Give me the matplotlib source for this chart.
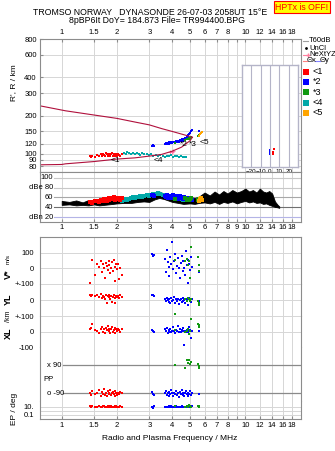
import matplotlib
matplotlib.use("Agg")
import matplotlib.pyplot as plt
from matplotlib.lines import Line2D
from matplotlib.ticker import NullLocator

plt.rcParams['font.family'] = ['Liberation Sans', 'DejaVu Sans']

W, H = 335, 451

# frequency axis
freq_ticks = [1, 1.5, 2, 3, 4, 5, 6, 7, 8, 9, 10, 12, 14, 16, 18]
freq_labels = ['1', '1.5', '2', '3', '4', '5', '6', '7', '8', '', '10', '12', '14', '16', '18']
freq_labels_mid = ['1', '1.5', '2', '3', '4', '5', '6', '7', '8', '9', '10', '12', '14', '16', '18']
range_ticks = [80, 90, 100, 120, 150, 200, 300, 400, 600, 800]

# model traces (theta x / theta y)
model_f = [0.757, 1.0, 1.05, 1.5, 2.0, 2.5, 3.0, 3.5, 4.0, 4.5, 5.0, 5.15]
model_upper = [239, 221, 218, 202, 190, 178, 169, 158, 150, 143, 137, 135]
model_lower = [82, 82.5, 83.5, 87, 91, 93, 96, 99, 105, 113, 127, 135]

# echo groups: frequency (MHz), range (km), amplitude (dB), V* (m/s), YL, XL (km), PP, EP (deg)
red_f = [1.43, 1.45, 1.47, 1.52, 1.56, 1.60, 1.63, 1.66, 1.68, 1.70, 1.72, 1.74, 1.76, 1.78, 1.80,
         1.82, 1.84, 1.86, 1.88, 1.90, 1.92, 1.94, 1.96, 1.98, 2.00, 2.03, 2.06, 2.09, 2.12]
red_r = [96, 94, 97, 95, 98, 96, 99, 97, 100, 98, 96, 101, 99, 97, 100,
         98, 96, 99, 101, 97, 100, 98, 96, 99, 97, 100, 98, 96, 99]
red_amp = [50, 51, 49, 52, 53, 51, 55, 54, 52, 56, 55, 57, 53, 56, 58,
           55, 57, 59, 56, 58, 60, 57, 55, 58, 56, 59, 57, 55, 58]
red_v = [-96, -107, 52, -40, 30, 10, 45, -20, 25, 5, -60, 35, 15, -10, 50,
         20, -30, 0, 40, -15, 55, 10, -80, 25, -5, 30, -70, 5, -40]
red_yl = [30, 28, 32, 25, 30, 22, 35, 15, 28, 20, 10, 30, -15, 25, 18,
          32, 5, 28, -10, 22, 30, 15, -19, 25, 20, 28, 12, 30, 22]
red_xl = [15, 25, 52, 10, 5, -5, 20, 30, 0, 15, -10, 25, 10, 35, 5,
          20, -5, 15, 30, 0, 10, 25, -10, 15, 5, 20, 10, 0, 15]
red_pp = [-85, -100, -75, -95, -90, -70, -105, -80, -95, -65, -100, -85, -110, -75, -90,
          -95, -70, -100, -85, -80, -95, -105, -75, -90, -100, -85, -95, -80, -90]
red_ep = [12, 10, 15, 9, 11, 13, 10, 8, 12, 14, 9, 11, 10, 13, 8,
          12, 10, 15, 9, 11, 10, 12, 8, 14, 10, 11, 9, 12, 10]

blue_f = [3.12, 3.15, 3.18, 3.66, 3.70, 3.74, 3.78, 3.82, 3.86, 3.90, 3.95, 4.00, 4.05, 4.10, 4.15,
          4.20, 4.25, 4.30, 4.35, 4.40, 4.45, 4.50, 4.55, 4.60, 4.65, 4.70, 4.75, 4.80, 4.85, 4.90,
          4.95, 5.00, 5.05, 5.10, 5.58]
blue_r = [116, 118, 115, 120, 122, 119, 121, 123, 120, 122, 124, 121, 123, 125, 122,
          126, 124, 127, 125, 128, 126, 130, 127, 132, 129, 134, 131, 136, 138, 141,
          144, 147, 150, 155, 150]
blue_amp = [64, 66, 62, 62, 60, 64, 58, 61, 63, 59, 62, 60, 64, 58, 61,
            59, 63, 57, 60, 62, 58, 61, 59, 57, 60, 58, 56, 59, 57, 55,
            58, 56, 57, 55, 52]
blue_v = [90, 78, 85, 60, -20, 120, 40, 10, -50, 75, 25, 167, -5, 50, 95,
          -30, 15, 65, 0, -60, 35, 80, -15, 45, 5, -40, 110, 20, -96, 55,
          30, -10, 70, 10, -25]
blue_yl = [30, 33, 25, 10, -5, 15, 0, -10, 5, -20, 12, -8, 3, 18, -15,
           6, -3, 10, -25, 0, 8, -12, 15, -6, 2, -18, 10, -4, 5, -29,
           12, 0, -10, 7, -5]
blue_xl = [10, 5, 0, 15, 5, 25, -5, 10, 0, 20, -3, 8, 30, 2, -6,
           12, 4, 40, 0, 18, -2, 10, 6, 22, -82, 8, 0, 14, 3, -4,
           28, 10, -39, 6, 2]
blue_pp = [-80, -95, -100, -85, -75, -100, -90, -110, -80, -95, -70, -90, -105, -85, -95,
           -75, -100, -88, -115, -80, -92, -70, -98, -85, -105, -90, -78, -95, -110, -85,
           -92, -75, -100, -88, -95]
blue_ep = [10, 5, 12, 9, 11, 8, 10, 13, 9, 10, 12, 8, 11, 10, 9,
           12, 10, 8, 11, 9, 10, 13, 9, 10, 11, 8, 10, 12, 9, 10,
           11, 9, 10, 12, 10]

green_f = [4.15, 4.70, 4.80, 4.87, 4.95, 5.00, 5.08, 5.54, 5.56, 5.60]
green_r = [122, 128, 130, 131, 133, 132, 136, 137, 140, 138]
green_amp = [56, 58, 55, 57, 54, 56, 58, 55, 53, 57]
green_v = [53, 45, 60, 21, 50, -60, 138, 74, 21, -16]
green_yl = [-85, 10, -5, 12, 5, -4, 8, -4, -29, -20]
green_xl = [10, 0, 5, 20, -11, 4, 83, 52, 47, 30]
green_pp = [88, 69, 120, 100, 125, 95, 110, 94, 70, 85]
green_ep = [12, 10, 15, 9, 20, 12, 10, 18, 14, 11]

cyan_f = [2.13, 2.18, 2.23, 2.28, 2.33, 2.38, 2.44, 2.50, 2.56, 2.62,
          2.68, 2.75, 2.82, 2.90, 2.98, 3.06, 3.15, 3.25, 3.35, 3.45,
          3.55, 3.65, 3.75, 3.85, 3.95, 4.05, 4.15, 4.25, 4.35, 4.45,
          4.55, 4.65, 4.78]
cyan_r = [100, 102, 99, 103, 101, 100, 102, 99, 101, 100,
          98, 101, 99, 100, 98, 99, 97, 98, 96, 98,
          97, 95, 97, 96, 98, 95, 97, 96, 94, 96,
          95, 94, 95]
cyan_amp = [53, 55, 56, 54, 57, 58, 60, 58, 61, 60,
            62, 61, 63, 64, 62, 66, 68, 67, 70, 68,
            66, 65, 63, 62, 60, 59, 58, 57, 56, 57,
            55, 56, 54]

orange_f = [5.62, 5.68, 5.75, 5.82]
orange_r = [138, 142, 145, 148]
orange_amp = [52, 56, 58, 54]

pink_f = [3.9, 4.0, 4.05]
pink_r = [104, 104, 105]

# tilt inset
tilt_blue = [0.0, 0.5, 0.0]
tilt_blue_r = [100, 104, 108]
tilt_red = [3.0, 3.5, 4.0]
tilt_red_r = [101, 105, 109]

# background amplitude band (black)
amp_f = [1.0, 1.1, 1.2, 1.3, 1.4, 1.5, 1.6, 1.7, 1.8, 1.9, 2.0, 2.2, 2.4, 2.6, 2.8, 3.0,
         3.2, 3.4, 3.6, 3.8, 4.0, 4.3, 4.6, 5.0, 5.3, 5.6, 6.0, 6.4, 6.8, 7.2, 7.6, 8.0,
         8.5, 9.0, 9.5, 10.0, 10.5, 11.0, 11.5, 12.0, 12.5, 13.0, 13.5, 14.0, 14.5, 15.0, 15.3]
amp_hi = [53, 51, 54, 50, 55, 52, 56, 53, 57, 57, 59, 58, 60, 63, 65, 69,
          69, 72, 68, 67, 65, 63, 62, 61, 59, 62, 70, 64, 72, 66, 73, 68,
          75, 70, 73, 78, 72, 75, 70, 78, 72, 70, 73, 68, 52, 45, 42]
amp_lo = [45, 46, 44, 45, 44, 46, 44, 45, 46, 47, 48, 49, 49, 51, 52, 51,
          56, 59, 57, 54, 51, 49, 47, 48, 47, 49, 50, 48, 51, 47, 51, 49,
          52, 48, 51, 53, 50, 52, 49, 50, 47, 48, 45, 43, 41, 40, 39]

amp_levels = [100, 80, 60, 40, 20]
amp_level_labels = ['100', 'dBe 80', '60', '40', 'dBn 20']
amp_level_colors = ['#c8c8c8', '#c8c8c8', '#a8a8a8', '#707070', '#b4b4e6']

RED, BLUE, GREEN, CYAN, ORANGE = '#ff0000', '#0000ff', '#119911', '#00a8a8', '#ffa500'
MODEL = '#b0103c'
GRID = '#d6d6d6'
SPINE = '#8c8c8c'
FS = 5.5


def box(x0, y0, x1, y1):
    return [x0 / W, 1 - y1 / H, (x1 - x0) / W, (y1 - y0) / H]


def freq_axis(ax, labels=None, where='bottom'):
    ax.set_xscale('log')
    ax.set_xlim(0.757, 20.1)
    ax.set_xticks(freq_ticks)
    ax.xaxis.set_minor_locator(NullLocator())
    for x in freq_ticks:
        ax.axvline(x, color=GRID, lw=0.7, zorder=0)
    for s in ax.spines.values():
        s.set_color(SPINE)
        s.set_linewidth(0.8)
    ax.tick_params(axis='both', labelsize=FS, length=2.5, direction='in', color=SPINE, pad=2)
    if labels is None:
        ax.tick_params(axis='x', labelbottom=False, bottom=False)
    elif where == 'top':
        ax.xaxis.set_ticks_position('top')
        ax.set_xticklabels(labels)
    else:
        ax.set_xticklabels(labels)


fig = plt.figure(figsize=(W / 100, H / 100), dpi=100)

# ---- range panel
ax_r = fig.add_axes(box(39.5, 39, 301, 172))
freq_axis(ax_r, freq_labels, 'top')
ax_r.set_yscale('log')
ax_r.set_ylim(72, 800)
ax_r.set_yticks(range_ticks)
ax_r.yaxis.set_minor_locator(NullLocator())
ax_r.set_yticklabels([str(t) for t in range_ticks])
for t in range_ticks:
    ax_r.axhline(t, color=GRID, lw=0.7, zorder=0)
ax_r.plot(model_f, model_upper, color=MODEL, lw=0.8)
ax_r.plot(model_f, model_lower, color=MODEL, lw=0.8)
ax_r.scatter(pink_f, pink_r, marker='+', s=8, color='#ff70a0', lw=0.6)
ms = dict(marker='s', s=3.5, linewidths=0)
h_cyan = ax_r.scatter(cyan_f, cyan_r, color=CYAN, **ms)
h_red = ax_r.scatter(red_f, red_r, color=RED, **ms)
h_blue = ax_r.scatter(blue_f, blue_r, color=BLUE, **ms)
h_green = ax_r.scatter(green_f, green_r, color=GREEN, **ms)
h_orange = ax_r.scatter(orange_f, orange_r, color=ORANGE, **ms)
for lab, fx, ry in [('<1', 1.95, 88), ('<4', 3.35, 88), ('*2', 4.6, 119), ('*3', 5.15, 119), ('<5', 6.0, 123)]:
    ax_r.text(fx, ry, lab, fontsize=6, ha='center', va='center')
ax_r.legend([h_red, h_blue, h_green, h_cyan, h_orange], ['<1', '*2', '*3', '<4', '<5'],
            loc='upper left', bbox_to_anchor=(303 / W, 1 - 67 / H), bbox_transform=fig.transFigure,
            frameon=False, fontsize=6.5, handlelength=0.6, handletextpad=0.5, labelspacing=0.15,
            borderpad=0, borderaxespad=0, markerscale=2.2)

# tilt inset
ax_t = fig.add_axes(box(241.7, 65, 298.3, 166.7))
ax_t.set_xlim(-30, 30)
ax_t.set_yscale('log')
ax_t.set_ylim(80, 497)
ax_t.set_yticks([])
ax_t.yaxis.set_minor_locator(NullLocator())
ax_t.set_xticks([-20, -10, 0, 10, 20])
for x in [-20, -10, 0, 10, 20]:
    ax_t.axvline(x, color='#b4b4c8', lw=0.8)
for s in ax_t.spines.values():
    s.set_color('#b4b4c8')
    s.set_linewidth(1.0)
ax_t.tick_params(labelsize=4.5, length=0, pad=1.5)
ax_t.set_xlabel('Tilt / deg', fontsize=4.5, labelpad=0)
ax_t.scatter(tilt_blue, tilt_blue_r, marker='s', s=2.5, color=BLUE, linewidths=0)
ax_t.scatter(tilt_red, tilt_red_r, marker='s', s=2.5, color=RED, linewidths=0)

# ---- amplitude panel
ax_a = fig.add_axes(box(39.5, 172, 301, 221.7))
freq_axis(ax_a, freq_labels_mid)
ax_a.set_ylim(11, 111.5)
ax_a.set_yticks([])
lx = (53 - 39.5) / 261.5
for lev, lab, c in zip(amp_levels, amp_level_labels, amp_level_colors):
    ax_a.axhline(lev, xmin=lx + 0.004, color=c, lw=0.8, zorder=0.5)
    ax_a.text(lx, lev, lab, transform=ax_a.get_yaxis_transform(), fontsize=FS, ha='right', va='center')
ax_a.fill_between(amp_f, amp_lo, amp_hi, color='black', lw=0.6, edgecolor='black')
for f, a, c in [(cyan_f, cyan_amp, CYAN), (red_f, red_amp, RED), (blue_f, blue_amp, BLUE),
                (green_f, green_amp, GREEN), (orange_f, orange_amp, ORANGE)]:
    ax_a.scatter(f, a, marker='s', s=5, color=c, linewidths=0)

# ---- Doppler / location panels
ax_v = fig.add_axes(box(39.5, 236.7, 301, 284))
ax_yl = fig.add_axes(box(39.5, 284, 301, 316.3))
ax_xl = fig.add_axes(box(39.5, 316.3, 301, 347.3))
ax_pp = fig.add_axes(box(39.5, 347.3, 301, 401))
ax_ep = fig.add_axes(box(39.5, 401, 301, 419))
lower = [ax_v, ax_yl, ax_xl, ax_pp, ax_ep]
for ax in lower[:-1]:
    freq_axis(ax)
freq_axis(ax_ep, freq_labels)
for ax in lower:
    if ax is not ax_v:
        ax.spines['top'].set_visible(False)
    if ax is not ax_ep:
        ax.spines['bottom'].set_visible(False)

ax_v.set_ylim(-100, 203)
ax_v.set_yticks([100, 0])
ax_v.set_yticklabels(['100', '0'])
ax_yl.set_ylim(-100, 100)
ax_yl.set_yticks([100, 0])
ax_yl.set_yticklabels(['+-100', '0'])
ax_xl.set_ylim(-100, 100)
ax_xl.set_yticks([100, 0, -100])
ax_xl.set_yticklabels(['+-100', '0', '-100'])
for ax in [ax_v, ax_yl, ax_xl]:
    ax.tick_params(axis='y', length=0, pad=4)
    for t in ax.get_yticks():
        ax.axhline(t, color=GRID, lw=0.7, zorder=0)

ps = dict(marker='s', s=3.5, linewidths=0)
for f, v, yl, xl, pp, ep, c in [(red_f, red_v, red_yl, red_xl, red_pp, red_ep, RED),
                                (blue_f, blue_v, blue_yl, blue_xl, blue_pp, blue_ep, BLUE),
                                (green_f, green_v, green_yl, green_xl, green_pp, green_ep, GREEN)]:
    ax_v.scatter(f, v, color=c, **ps)
    ax_yl.scatter(f, yl, color=c, **ps)
    ax_xl.scatter(f, xl, color=c, **ps)
    ax_pp.scatter(f, pp, color=c, **ps)
    ax_ep.scatter(f, ep, color=c, **ps)

ax_pp.set_ylim(-139, 203)
ax_pp.set_yticks([])
px = (63 - 39.5) / 261.5
for lev, lab in [(90, 'x 90'), (-90, 'o -90')]:
    ax_pp.axhline(lev, xmin=px, color='#8a8a8a', lw=0.9, zorder=0.5)
    ax_pp.text(0.03, lev, lab, transform=ax_pp.get_yaxis_transform(), fontsize=FS, va='center')
ax_pp.text(0.013, 0, 'PP', transform=ax_pp.get_yaxis_transform(), fontsize=FS, va='center')

ax_ep.set_yscale('log')
ax_ep.set_ylim(0.0084, 266)
ax_ep.set_yticks([10, 0.1])
ax_ep.yaxis.set_minor_locator(NullLocator())
ax_ep.set_yticklabels(['10.', '0.1'])
ax_ep.tick_params(axis='y', length=0, pad=4)
for lev in [10, 1, 0.1]:
    ax_ep.axhline(lev, color=GRID, lw=0.7, zorder=0)

# ---- texts
fig.text(150 / W, 1 - 12.3 / H, 'TROMSO NORWAY   DYNASONDE 26-07-03 2058UT 15\u00b0E',
         fontsize=6.3, ha='center', va='center')
fig.text(157 / W, 1 - 20.5 / H, '8pBP6It DoY= 184.873 File= TR994400.BPG',
         fontsize=6.3, ha='center', va='center')
fig.text(302 / W, 1 - 7 / H, 'HPTx is OFF!', fontsize=6.3, color='red', ha='center', va='center',
         bbox=dict(facecolor='#ffff00', edgecolor='red', boxstyle='square,pad=0.2', lw=0.8))
fig.text(14 / W, 1 - 83 / H, "R', R / km", fontsize=6, rotation=90, ha='center', va='center')
fig.text(8 / W, 1 - 274 / H, 'V*', fontsize=6.5, rotation=90, ha='center', va='center', weight='bold')
fig.text(8 / W, 1 - 259 / H, 'm/s', fontsize=4.5, rotation=90, ha='center', va='center')
fig.text(8 / W, 1 - 299 / H, 'YL', fontsize=6.5, rotation=90, ha='center', va='center', weight='bold')
fig.text(8 / W, 1 - 316 / H, '/km', fontsize=5, rotation=90, ha='center', va='center')
fig.text(8 / W, 1 - 333 / H, 'XL', fontsize=6.5, rotation=90, ha='center', va='center', weight='bold')
fig.text(14 / W, 1 - 409 / H, 'EP / deg', fontsize=6, rotation=90, ha='center', va='center')
fig.text(170 / W, 1 - 439 / H, 'Radio and Plasma Frequency / MHz', fontsize=6, ha='center', va='center')

# legend for traces (right of the range panel)
leg_rows = [('T60dB', '#a0a0a0', None, 41), ('UnCl', None, '.', 48), ('NeXtYZ', '#ff80a0', '+', 55)]
for lab, c, m, y in leg_rows:
    yf = 1 - y / H
    if c is not None:
        fig.add_artist(Line2D([303 / W, 308 / W], [yf, yf], color=c, lw=0.8, marker=m, markersize=3,
                              markevery=[1] if m else None, transform=fig.transFigure))
    else:
        fig.add_artist(Line2D([305.5 / W], [yf], color='black', marker=m, markersize=2,
                              transform=fig.transFigure))
    fig.text(309 / W, yf, lab, fontsize=5.5, va='center')
yf = 1 - 61 / H
fig.add_artist(Line2D([303 / W, 306.5 / W], [yf, yf], color='#ff8080', lw=0.8, transform=fig.transFigure))
fig.text(306.5 / W, yf, '\u0398x', fontsize=5.5, va='center')
fig.add_artist(Line2D([315 / W, 320 / W], [yf, yf], color='#8080ff', lw=0.8, transform=fig.transFigure))
fig.text(320 / W, yf, '\u0398y', fontsize=5.5, va='center')

fig.savefig('out.png', dpi=100)
